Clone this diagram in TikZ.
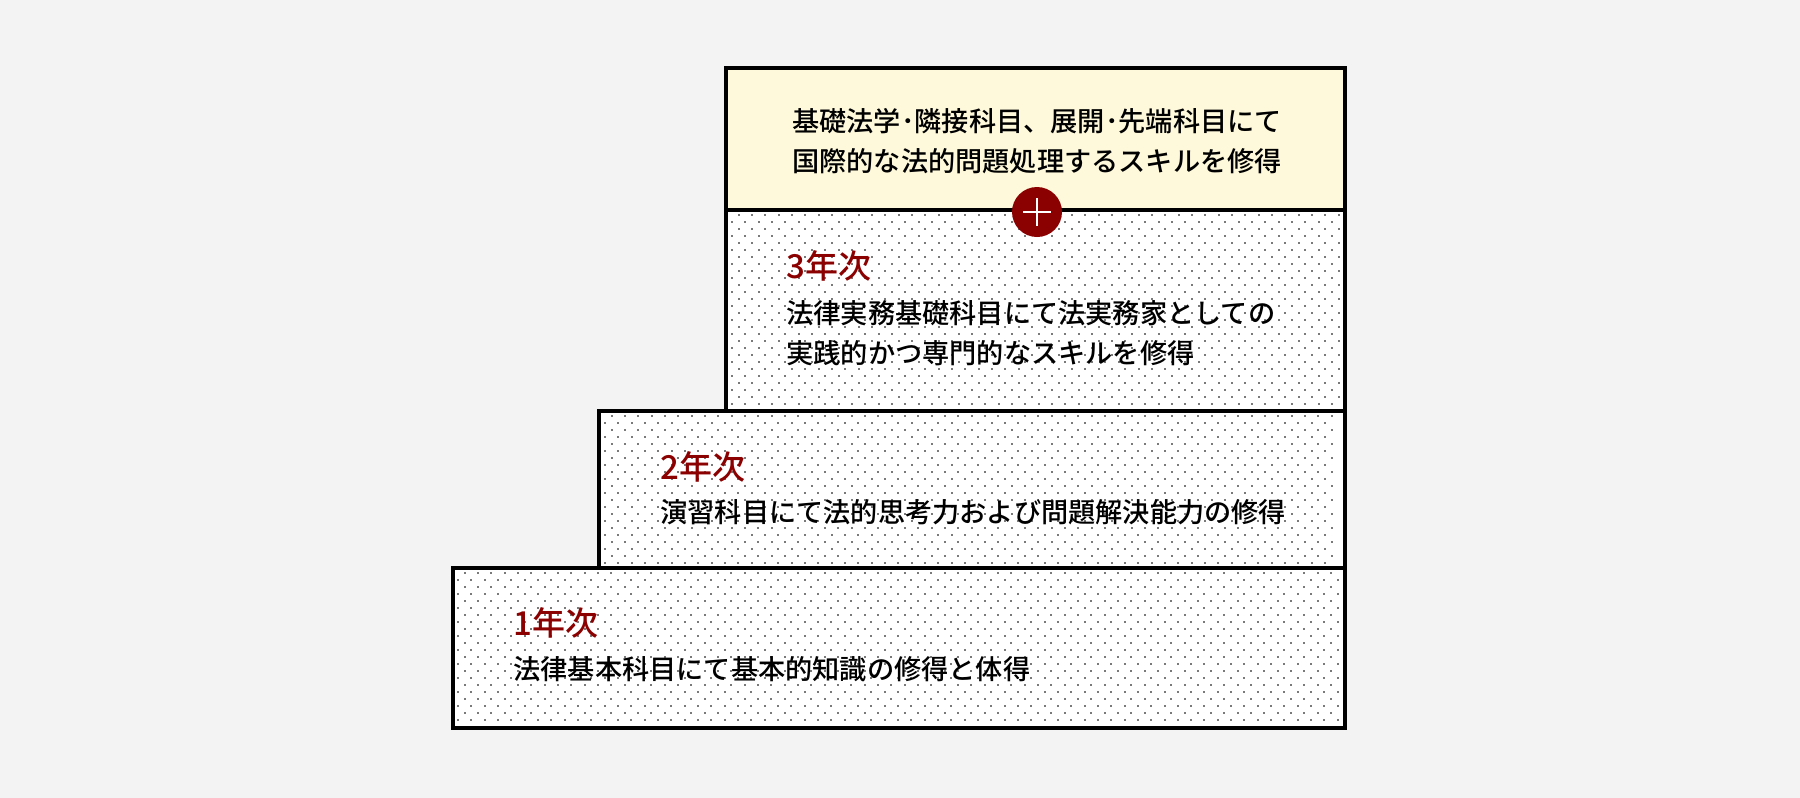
\documentclass[tikz,border=0pt]{standalone}
\usepackage{fontspec}
\setmainfont{Noto Sans CJK JP Medium}
\definecolor{bg}{HTML}{F3F3F3}
\definecolor{cream}{HTML}{FEF9DB}
\definecolor{dred}{HTML}{8B0000}
\definecolor{dotc}{HTML}{7A7A7A}
\begin{document}
\begin{tikzpicture}[x=1pt,y=-1pt,
  box/.style={draw=black,line width=3.5pt},
  ttl/.style={anchor=west,text=dred,font=\fontsize{33}{35}\selectfont},
  body/.style={anchor=west,align=left,font=\fontsize{27.2}{40}\selectfont},
  dotsq/.style={fill=dotc}]
\fill[bg] (0,0) rectangle (1800,798);
\useasboundingbox (0,0) rectangle (1800,798);
\fill[white] (726,210) rectangle (1345,411);
\fill[white] (599,411) rectangle (1345,568);
\fill[white] (453,568) rectangle (1345,728);
% dots
\foreach \y [count=\i] in {215,222,...,406}{
  \pgfmathsetmacro\off{mod(\i,2)*6.67}
  \foreach \x in {732,745.33,...,1338}{\fill[dotc] (\x+\off-1,\y-1) rectangle +(2,2);}}
\foreach \y [count=\i] in {416,423,...,563}{
  \pgfmathsetmacro\off{mod(\i,2)*6.67}
  \foreach \x in {605,618.33,...,1338}{\fill[dotc] (\x+\off-1,\y-1) rectangle +(2,2);}}
\foreach \y [count=\i] in {573,580,...,723}{
  \pgfmathsetmacro\off{mod(\i,2)*6.67}
  \foreach \x in {458,471.33,...,1338}{\fill[dotc] (\x+\off-1,\y-1) rectangle +(2,2);}}
\draw[box,fill=cream] (726,68) rectangle (1345,210);
\draw[box] (726,210) rectangle (1345,411);
\draw[box] (599,411) rectangle (1345,568);
\draw[box] (453,568) rectangle (1345,728);
\node[circle,fill=dred,minimum size=50pt,inner sep=0] (plus) at (1037,212) {};
\draw[white,line width=2pt] (1023,212) -- (1051,212) (1037,198) -- (1037,226);
\node[align=center,font=\fontsize{27.2}{40}\selectfont] (t0) at (1037,141) {基礎法学･隣接科目、展開･先端科目にて\\国際的な法的問題処理するスキルを修得};
\node[ttl] (t3) at (783,266) {3年次};
\node[body] (b3) at (783,333) {法律実務基礎科目にて法実務家としての\\実践的かつ専門的なスキルを修得};
\node[ttl] (t2) at (657,467) {2年次};
\node[body] (b2) at (657,512) {演習科目にて法的思考力および問題解決能力の修得};
\node[ttl] (t1) at (510,623) {1年次};
\node[body] (b1) at (510,669) {法律基本科目にて基本的知識の修得と体得};
\end{tikzpicture}
\end{document}
